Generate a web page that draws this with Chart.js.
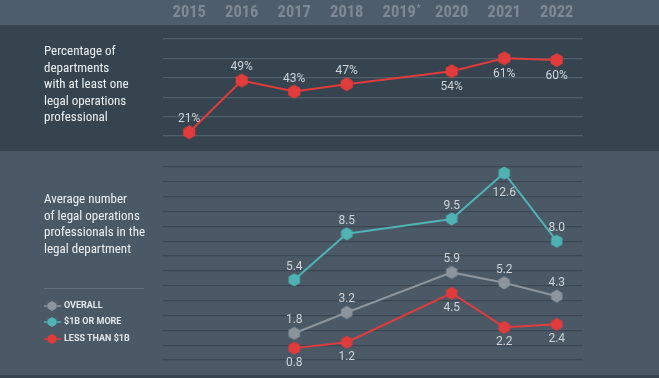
<!DOCTYPE html>
<html>
<head>
<meta charset="utf-8">
<script src="https://cdn.jsdelivr.net/npm/chart.js@4.4.1/dist/chart.umd.min.js"></script>
<style>
  html,body{margin:0;padding:0;background:#35444f;}
  #wrap{position:relative;width:659px;height:378px;overflow:hidden;background:#35444f;
    font-family:"Liberation Sans Narrow","Roboto Condensed","DejaVu Sans Condensed",sans-serif;}
  #head{position:absolute;left:0;top:0;width:659px;height:25px;background:#4e5d6b;}
  #lower{position:absolute;left:0;top:151px;width:659px;height:224px;background:#4b5967;}
  canvas.chart{position:absolute;left:0;}
  #topChart{top:0;}
  #botChart{top:151px;}
  .note{position:absolute;left:44px;color:#eef1f3;font-size:13px;line-height:16.6px;}
  #note1{top:43px;}
  #note2{top:191px;}
  #sep{position:absolute;left:44px;top:288px;width:100px;height:1px;background:#64717d;}
  #legend{position:absolute;left:44px;top:300px;}
  .item{position:absolute;left:0;height:12px;white-space:nowrap;}
  .item canvas{position:absolute;left:0;top:0;}
  .item span{position:absolute;left:20px;top:0;line-height:12px;font:bold 9px Roboto,sans-serif;color:#e2e6ea;}
</style>
</head>
<body>
<div id="wrap">
  <div id="head"></div>
  <div id="lower"></div>
  <canvas id="topChart" class="chart" width="659" height="151"></canvas>
  <canvas id="botChart" class="chart" width="659" height="224"></canvas>
  <div class="note" id="note1">Percentage of<br>departments<br>with at least one<br>legal operations<br>professional</div>
  <div class="note" id="note2">Average number<br>of legal operations<br>professionals in the<br>legal department</div>
  <div id="sep"></div>
  <div id="legend"></div>
</div>
<script>
// chart values
const years = ['2015','2016','2017','2018','2019','2020','2021','2022'];
const yearNotes = ['','','','','*','','',''];

const pctWithLegalOps = [21, 49, 43, 47, null, 54, 61, 60];

const avgOverall = [null, null, 1.8, 3.2, null, 5.9, 5.2, 4.3];
const avgLarge   = [null, null, 5.4, 8.5, null, 9.5, 12.6, 8.0];
const avgSmall   = [null, null, 0.8, 1.2, null, 4.5, 2.2, 2.4];

const seriesNames = ['OVERALL', '$1B OR MORE', 'LESS THAN $1B'];

// where each value label sits
const pctPos     = ['up','up','up','up',null,'down','down','down'];
const overallPos = [null,null,'up','up',null,'up','up','up'];
const largePos   = [null,null,'up','up',null,'up','low','up'];
const smallPos   = [null,null,'down','down',null,'down','down','down'];

const RED = '#e23b3b', TEAL = '#4fb3b4', GRAY = '#8c959d';
const YEAR_FONT = '"Liberation Sans Narrow","Roboto Condensed","DejaVu Sans Condensed",sans-serif';

function hexMarker(color, r){
  const c = document.createElement('canvas');
  const w = Math.ceil(r)*2+2;
  c.width = w; c.height = w;
  const g = c.getContext('2d');
  g.fillStyle = color;
  g.beginPath();
  for(let k=0;k<6;k++){
    const a = Math.PI/180*(60*k-90);
    const x = w/2 + r*Math.cos(a), y = w/2 + r*Math.sin(a);
    k ? g.lineTo(x,y) : g.moveTo(x,y);
  }
  g.closePath(); g.fill();
  return c;
}

const valueLabels = {
  id:'valueLabels',
  afterDatasetsDraw(chart, args, opts){
    const ctx = chart.ctx;
    chart.data.datasets.forEach((ds,i)=>{
      const meta = chart.getDatasetMeta(i);
      meta.data.forEach((pt,j)=>{
        const v = ds.data[j];
        if(v==null) return;
        const p = ds.labelPos[j];
        const dy = p==='down' ? opts.below : p==='low' ? opts.below+5 : -opts.above;
        ctx.save();
        ctx.font = '12px Roboto, sans-serif';
        ctx.fillStyle = '#cdd3d8';
        ctx.textAlign = 'center';
        ctx.textBaseline = 'middle';
        ctx.fillText(v.toFixed(opts.decimals)+opts.suffix, pt.x, pt.y+dy);
        ctx.restore();
      });
    });
  }
};

// small superscript note mark next to a year tick
const yearMarks = {
  id:'yearMarks',
  afterDraw(chart){
    const x = chart.scales.x, ctx = chart.ctx;
    ctx.save();
    ctx.font = 'bold 16.5px '+YEAR_FONT;
    const base = ctx.measureText('2019').width;
    ctx.font = 'bold 9px '+YEAR_FONT;
    ctx.fillStyle = '#7d8a96';
    ctx.textBaseline = 'middle';
    yearNotes.forEach((n,i)=>{
      if(!n) return;
      ctx.fillText(n, x.getPixelForValue(i)+base/2+0.5, 9);
    });
    ctx.restore();
  }
};

function lineSet(label, data, color, r, pos){
  return {
    label, data, labelPos: pos,
    borderColor: color, backgroundColor: color, borderWidth: 2,
    pointStyle: hexMarker(color, r), pointRadius: r, tension: 0,
    spanGaps: true, clip: false
  };
}

new Chart(document.getElementById('topChart'), {
  type:'line',
  data:{ labels: years, datasets:[ lineSet('Percentage', pctWithLegalOps, RED, 7, pctPos) ] },
  options:{
    responsive:false, animation:false, events:[],
    layout:{ padding:{ left:163, right:76, top:0, bottom:15 } },
    plugins:{ legend:{display:false}, tooltip:{enabled:false},
      valueLabels:{ suffix:'%', decimals:0, above:13, below:16 } },
    scales:{
      x:{ type:'category', position:'top', offset:true,
        grid:{ display:false, drawTicks:false }, border:{ display:false },
        afterFit:(s)=>{ s.height = 39; },
        ticks:{ autoSkip:false, maxRotation:0, padding:16, color:'#7d8a96',
          font:{ family:YEAR_FONT, size:16.5, weight:'bold' } } },
      y:{ min:19, max:71.4, ticks:{ display:false, count:6 },
        grid:{ color:'#4f5f6b', lineWidth:1.3, drawTicks:false }, border:{ display:false } }
    }
  },
  plugins:[valueLabels, yearMarks]
});

new Chart(document.getElementById('botChart'), {
  type:'line',
  data:{ labels: years, datasets:[
    lineSet(seriesNames[0], avgOverall, GRAY, 6.5, overallPos),
    lineSet(seriesNames[1], avgLarge, TEAL, 6.5, largePos),
    lineSet(seriesNames[2], avgSmall, RED, 6.5, smallPos)
  ] },
  options:{
    responsive:false, animation:false, events:[],
    layout:{ padding:{ left:163, right:76, top:16, bottom:15 } },
    plugins:{ legend:{display:false}, tooltip:{enabled:false},
      valueLabels:{ suffix:'', decimals:1, above:13, below:15 } },
    scales:{
      x:{ type:'category', offset:true, display:false },
      y:{ min:0, max:13, ticks:{ display:false, stepSize:1 },
        grid:{ color:'#3a4753', lineWidth:1.3, drawTicks:false }, border:{ display:false } }
    }
  },
  plugins:[valueLabels]
});

// html legend built from the series
const legendColors = [GRAY, TEAL, RED];
const legend = document.getElementById('legend');
seriesNames.forEach((name,i)=>{
  const item = document.createElement('div');
  item.className = 'item';
  item.style.top = (i*16.3)+'px';
  const c = document.createElement('canvas');
  c.width = 18; c.height = 12;
  const g = c.getContext('2d');
  g.strokeStyle = legendColors[i]; g.lineWidth = 1.5;
  g.beginPath(); g.moveTo(0,6); g.lineTo(17,6); g.stroke();
  g.drawImage(hexMarker(legendColors[i], 5), 8-6, 0);
  const s = document.createElement('span');
  s.textContent = name;
  item.appendChild(c); item.appendChild(s);
  legend.appendChild(item);
});
</script>
</body>
</html>
